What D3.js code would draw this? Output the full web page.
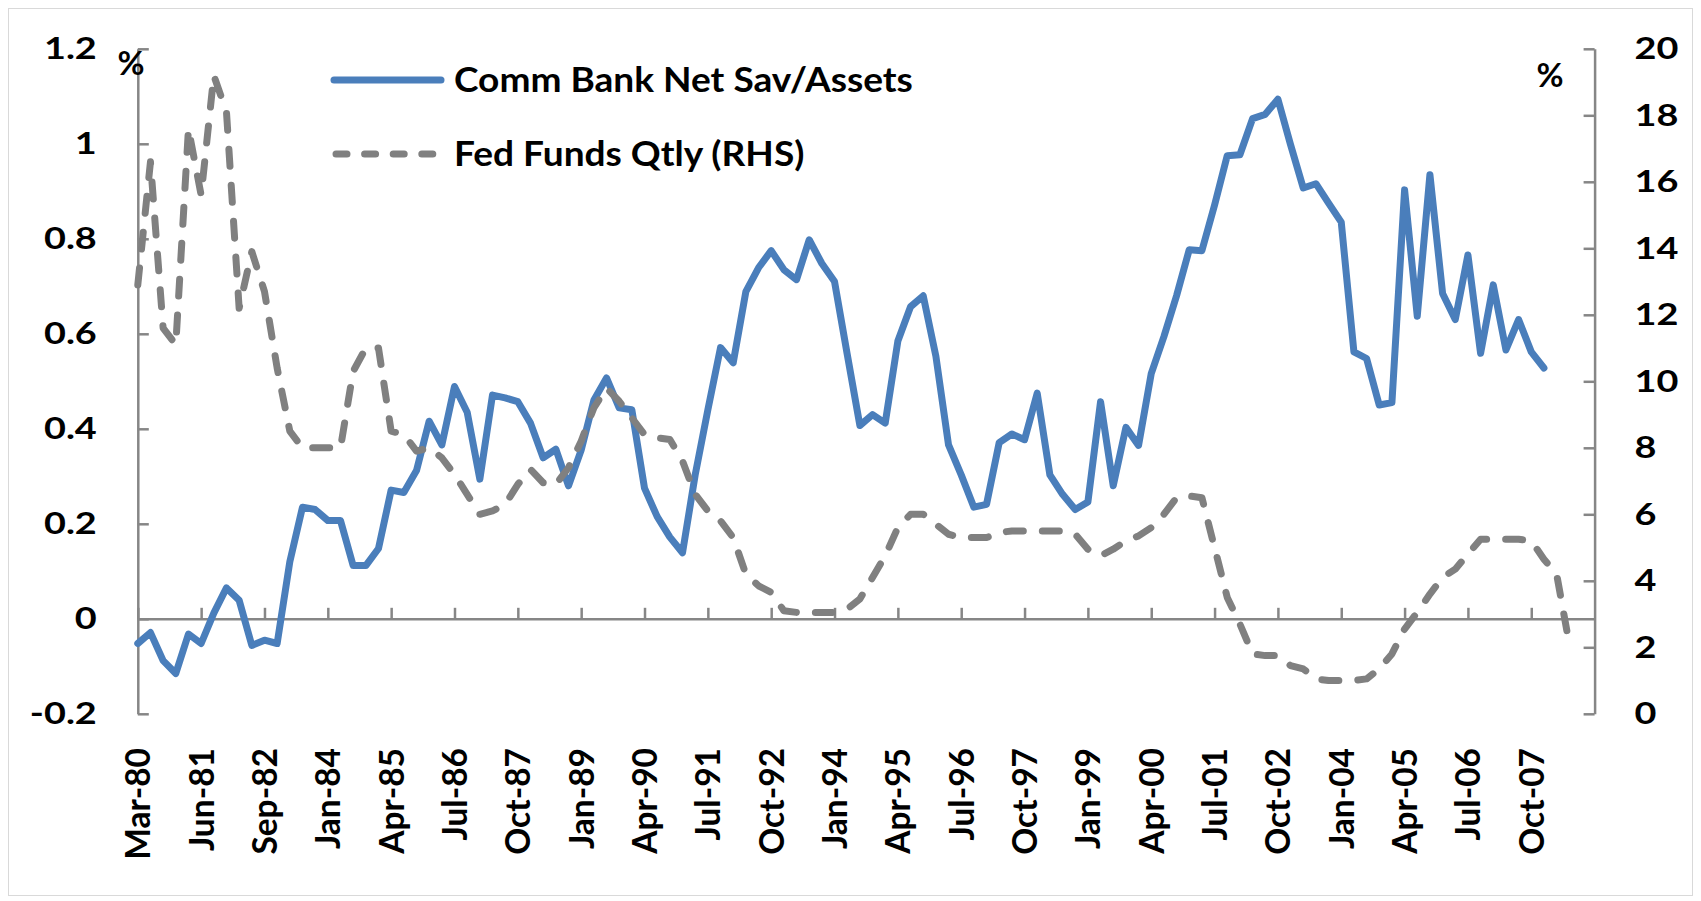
<!DOCTYPE html>
<html>
<head>
<meta charset="utf-8">
<script src="https://cdn.jsdelivr.net/npm/d3@7"></script>
<style>
  html, body { margin: 0; padding: 0; background: #fff; }
  svg text { font-family: Lato, "Open Sans", sans-serif; font-weight: bold; fill: #000; }
</style>
</head>
<body>
<div id="chart"></div>
<script>
// quarterly, Mar-80 onwards
const netSav = [
  -0.052, -0.029, -0.088, -0.115, -0.032, -0.052, 0.012, 0.065, 0.039, -0.056,
  -0.045, -0.052, 0.12, 0.235, 0.23, 0.207, 0.207, 0.112, 0.112, 0.148,
  0.271, 0.266, 0.312, 0.416, 0.366, 0.489, 0.435, 0.294, 0.471, 0.465,
  0.457, 0.412, 0.339, 0.357, 0.28, 0.355, 0.46, 0.507, 0.444, 0.44,
  0.275, 0.215, 0.172, 0.139, 0.303, 0.44, 0.571, 0.539, 0.689, 0.739,
  0.775, 0.735, 0.714, 0.798, 0.748, 0.71, 0.557, 0.407, 0.43, 0.412,
  0.585, 0.657, 0.68, 0.553, 0.366, 0.303, 0.235, 0.241, 0.371, 0.389,
  0.377, 0.475, 0.303, 0.262, 0.23, 0.246, 0.457, 0.28, 0.403, 0.365,
  0.516, 0.594, 0.68, 0.777, 0.775, 0.871, 0.975, 0.977, 1.053, 1.062,
  1.094, 0.998, 0.907, 0.916, 0.875, 0.835, 0.562, 0.548, 0.45, 0.455,
  0.903, 0.637, 0.935, 0.685, 0.63, 0.766, 0.559, 0.703, 0.566, 0.63,
  0.562, 0.528
];
const fedFunds = [
  12.9, 16.6, 11.6, 11.1, 17.6, 15.6, 19.2, 18.1, 12.2, 13.9,
  12.7, 10.4, 8.5, 8.0, 8.0, 8.0, 8.0, 10.3, 11.0, 11.0,
  8.5, 8.4, 7.9, 8.0, 7.7, 7.2, 6.6, 6.0, 6.1, 6.3,
  6.9, 7.35, 6.95, 6.9, 7.4, 8.2, 9.2, 9.8, 9.4, 8.9,
  8.4, 8.3, 8.25, 7.6, 6.6, 6.1, 5.8, 5.3, 4.2, 3.85,
  3.65, 3.1, 3.05, 3.05, 3.05, 3.05, 3.15, 3.45, 4.1, 4.75,
  5.6, 6.0, 6.0, 5.7, 5.4, 5.3, 5.3, 5.3, 5.45, 5.5,
  5.5, 5.5, 5.5, 5.5, 5.4, 4.95, 4.75, 4.95, 5.2, 5.35,
  5.6, 6.0, 6.5, 6.55, 6.5, 5.0, 3.5, 2.7, 1.8, 1.75,
  1.75, 1.45, 1.35, 1.05, 1.0, 1.0, 1.0, 1.05, 1.35, 1.8,
  2.55, 3.05, 3.6, 4.1, 4.35, 4.8, 5.25, 5.25, 5.25, 5.25,
  5.2, 4.65, 4.2, 2.1
];
const tickLabels = [
  "Mar-80", "Jun-81", "Sep-82", "Jan-84", "Apr-85", "Jul-86", "Oct-87", "Jan-89",
  "Apr-90", "Jul-91", "Oct-92", "Jan-94", "Apr-95", "Jul-96", "Oct-97", "Jan-99",
  "Apr-00", "Jul-01", "Oct-02", "Jan-04", "Apr-05", "Jul-06", "Oct-07"
];
const nCategories = 116;
const labelStep = 5;
const leftTicks = [-0.2, 0, 0.2, 0.4, 0.6, 0.8, 1, 1.2];
const rightTicks = [0, 2, 4, 6, 8, 10, 12, 14, 16, 18, 20];
const seriesNames = ["Comm Bank Net Sav/Assets", "Fed Funds Qtly (RHS)"];

const W = 1701, H = 901;
const pLeft = 137.8, pRight = 1594.6, pTop = 48.8, pBottom = 713.8;
const axisColor = "#868686";
const blue = "#4a7ebb", grey = "#808080";
const lineW = 7;

const svg = d3.select("#chart").append("svg")
  .attr("width", W).attr("height", H);

svg.append("rect")
  .attr("x", 8.5).attr("y", 8.5)
  .attr("width", W - 17).attr("height", H - 14)
  .attr("fill", "#fff").attr("stroke", "#d9d9d9").attr("stroke-width", 1);

const xScale = d3.scalePoint()
  .domain(d3.range(nCategories))
  .range([pLeft, pRight]);
const yL = d3.scaleLinear().domain([-0.2, 1.2]).range([pBottom, pTop]);
const yR = d3.scaleLinear().domain([0, 20]).range([pBottom, pTop]);

const fmt = v => String(Math.round(v * 10) / 10);

// x axis (crosses at 0 on left scale)
const xAxis = svg.append("g")
  .attr("transform", `translate(0, ${yL(0)})`)
  .call(d3.axisBottom(xScale)
    .tickValues(d3.range(0, tickLabels.length * labelStep, labelStep))
    .tickFormat(i => tickLabels[i / labelStep])
    .tickSizeInner(-11)
    .tickSizeOuter(0));
xAxis.selectAll("text")
  .attr("transform", "rotate(-90)")
  .attr("text-anchor", "end")
  .attr("x", -(748 - yL(0)))
  .attr("y", 0)
  .attr("dy", "0.36em")
  .style("font-size", "33.5px");

// left axis
const yAxisL = svg.append("g")
  .attr("transform", `translate(${pLeft}, 0)`)
  .call(d3.axisLeft(yL)
    .tickValues(leftTicks)
    .tickFormat(fmt)
    .tickSizeInner(-11)
    .tickSizeOuter(0));
yAxisL.selectAll("text")
  .attr("x", null)
  .attr("transform", "translate(-41,0) scale(1.22,1)")
  .style("font-size", "31px");

// right axis
const yAxisR = svg.append("g")
  .attr("transform", `translate(${pRight}, 0)`)
  .call(d3.axisRight(yR)
    .tickValues(rightTicks)
    .tickFormat(fmt)
    .tickSizeInner(-11)
    .tickSizeOuter(0));
yAxisR.selectAll("text")
  .attr("x", null)
  .attr("transform", "translate(40,0) scale(1.22,1)")
  .style("font-size", "31px");

svg.selectAll(".domain, .tick line")
  .attr("stroke", axisColor)
  .attr("stroke-width", 2.5);

// series
const lineL = d3.line().x((d, i) => xScale(i)).y(d => yL(d));
const lineR = d3.line().x((d, i) => xScale(i)).y(d => yR(d));

svg.append("path")
  .datum(netSav)
  .attr("d", lineL)
  .attr("fill", "none")
  .attr("stroke", blue)
  .attr("stroke-width", lineW)
  .attr("stroke-linejoin", "round")
  .attr("stroke-linecap", "round");

svg.append("path")
  .datum(fedFunds)
  .attr("d", lineR)
  .attr("fill", "none")
  .attr("stroke", grey)
  .attr("stroke-width", lineW)
  .attr("stroke-linejoin", "round")
  .attr("stroke-linecap", "round")
  .attr("stroke-dasharray", "17 19");

// legend
const legend = svg.append("g");
const legY = [80, 154];
legend.append("line")
  .attr("x1", 334).attr("x2", 441).attr("y1", legY[0]).attr("y2", legY[0])
  .attr("stroke", blue).attr("stroke-width", lineW).attr("stroke-linecap", "round");
legend.append("line")
  .attr("x1", 336).attr("x2", 441).attr("y1", legY[1]).attr("y2", legY[1])
  .attr("stroke", grey).attr("stroke-width", lineW).attr("stroke-linecap", "round")
  .attr("stroke-dasharray", "11 17.6");
legend.selectAll("text")
  .data(seriesNames)
  .enter()
  .append("text")
  .attr("transform", (d, i) => `translate(454, ${legY[i]}) scale(1.09,1)`)
  .attr("dy", "0.36em")
  .style("font-size", "34px")
  .text(d => d);

// unit labels
svg.append("text").attr("x", 131).attr("y", 63).attr("dy", "0.36em")
  .attr("text-anchor", "middle").style("font-size", "33px").text("%");
svg.append("text").attr("x", 1550).attr("y", 75).attr("dy", "0.36em")
  .attr("text-anchor", "middle").style("font-size", "33px").text("%");
</script>
</body>
</html>
